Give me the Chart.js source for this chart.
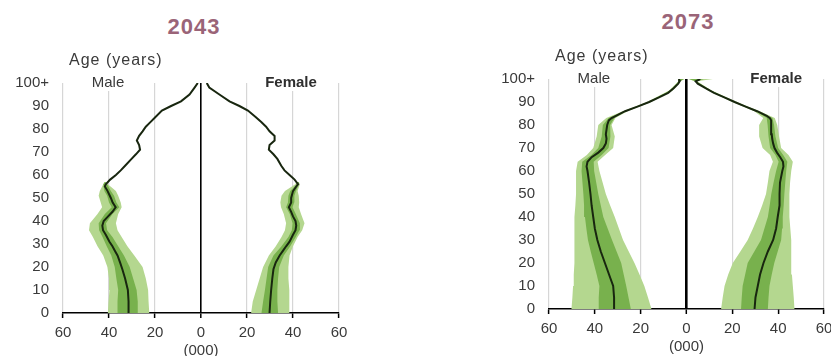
<!DOCTYPE html>
<html lang="en">
<head>
<meta charset="UTF-8">
<title>Population pyramids 2043 and 2073</title>
<script src="https://cdn.jsdelivr.net/npm/chart.js"></script>
<style>
    html, body { margin: 0; padding: 0; background: #fff; overflow: hidden; }
    body { width: 831px; height: 356px; position: relative; font-family: "Liberation Sans", Arial, sans-serif; }
    .title { position: absolute; width: 120px; text-align: center; font-weight: bold; font-size: 22px; letter-spacing: 1px; color: #9a6478; }
    canvas { position: absolute; }
</style>
</head>
<body>
    <div class="title" style="left:134px; top:14px;">2043</div>
    <div class="title" style="left:628px; top:9px;">2073</div>
    <canvas id="chart2043" width="360" height="316" style="left:0; top:40px;"></canvas>
    <canvas id="chart2073" width="370" height="320" style="left:480px; top:36px;"></canvas>

<script>
// values in thousands, males kept positive and mirrored when drawn
const ageTicks = [0, 10, 20, 30, 40, 50, 60, 70, 80, 90, 100];
const popTicks = [-60, -40, -20, 0, 20, 40, 60];

// 2043
const ages43 = [0, 5, 10, 15, 19, 22, 25, 27, 29, 31, 34, 36, 38, 40, 42, 44, 46, 48, 50, 53, 55, 56, 58, 60, 62, 64, 67, 69, 71, 73, 75, 77, 79, 81, 83, 85, 88, 90, 92, 95, 98, 100];
const male43 = [31.5, 31.5, 31.8, 33, 34.2, 35.2, 36.3, 37.4, 38.5, 39.8, 41.4, 42.6, 42.9, 42.3, 40.4, 38.5, 37.1, 38.4, 39.2, 40.6, 41.8, 41.4, 39.5, 37, 34.9, 33, 30.2, 28.3, 26.5, 26.9, 27.9, 26.9, 25.4, 24, 22, 20, 17, 13, 8.7, 5, 2.8, 1.4];
const female43 = [29.8, 30.1, 30.5, 31, 31.5, 32.5, 34.2, 35.6, 37, 38.5, 40, 41.1, 41.4, 41.1, 40, 39.2, 38.2, 39.2, 39.2, 40, 41.4, 42.2, 40.7, 38.5, 36.3, 34.9, 33.2, 31.5, 29.5, 29.8, 32, 32, 29.8, 28.3, 26.2, 24, 20.4, 16.7, 12.4, 8, 3.6, 2.5];
const bandAges43 = [0, 5, 10, 15, 20, 25, 29, 33, 36, 39, 43, 46, 48, 51, 53, 56, 57];
const maleLightOut43 = [40.5, 40.2, 39.8, 40, 40.7, 42.5, 45, 47, 48.7, 48.3, 45, 43, 43.6, 44.5, 44, 42.5, 41.8];
const maleLightIn43 = [22.5, 22.8, 23, 24, 25.4, 29, 32, 34.5, 36.3, 37, 36, 34.5, 34.9, 36, 37, 40.5, 41.6];
const maleDarkOut43 = [36.5, 36.3, 36, 36.8, 37.5, 39, 41, 42.8, 44.3, 44.5, 41.8, 38.8, 40, 40.8, 42, 42.5, 41.8];
const maleDarkIn43 = [27.5, 27.5, 28, 29.5, 31, 33.5, 36, 38.5, 40.8, 41.3, 38.5, 35.5, 36.8, 37.8, 39.2, 40.8, 41.6];
const femaleLightOut43 = [38.5, 38.5, 38.3, 38, 38, 38.5, 40, 42, 44, 45, 43.5, 42.5, 42.7, 42.5, 42, 43, 42.5];
const femaleLightIn43 = [21.8, 22.5, 24, 25.5, 27, 29.5, 32.5, 35, 36.5, 37, 36, 34.8, 34.5, 35, 36.5, 41, 41.5];
const femaleDarkOut43 = [33.5, 33.2, 33.2, 33.5, 34, 36, 38.8, 41.2, 42.8, 43, 41.2, 39.8, 40.5, 40.6, 41.3, 42.6, 42.5];
const femaleDarkIn43 = [26.3, 27, 27.8, 28.5, 29.2, 31.5, 35, 38, 39.5, 39.8, 38.6, 37, 37.8, 38, 38.8, 41.6, 41.6];

// 2073
const ages73 = [0, 5, 10, 15, 20, 25, 30, 35, 40, 45, 50, 55, 60, 62, 64, 66, 68, 70, 72, 74, 76, 78, 80, 82, 83, 84, 86, 88, 90, 92, 94, 96, 98, 99, 100];
const male73 = [31.3, 31.6, 32, 33.8, 35.6, 37.4, 38.9, 40, 40.7, 41.4, 41.9, 42.5, 43.2, 43.6, 43.2, 41.4, 38.5, 36.3, 35.2, 34.9, 35.2, 34.9, 34.6, 33.9, 32.7, 30.8, 26.8, 21.4, 16.3, 12, 8, 5.6, 3.6, 3, 3.2];
const female73 = [29.7, 30.1, 31.1, 32.1, 33.6, 35.5, 37.8, 39.1, 39.8, 40.6, 40.6, 40.8, 41.8, 42.3, 42.1, 40.9, 39.5, 38.4, 37.8, 37.4, 37.2, 37, 36.9, 36.9, 36.4, 35, 30.8, 25.8, 21, 16.5, 12, 8.3, 4.9, 4, 6];
const bandAges73 = [0, 5, 10, 15, 20, 25, 30, 35, 40, 45, 50, 55, 60, 64, 67, 70, 75, 80, 83, 86, 90, 95, 99, 100];
const maleLightOut73 = [50.2, 49.8, 49.5, 49.2, 48.9, 48.9, 48.9, 48.9, 48.9, 48.5, 48.2, 48.2, 48.2, 47.5, 43.5, 40.7, 39.2, 38.5, 35, 27.8, 17.2, 7.6, 3.5, 3.8];
const maleLightIn73 = [15.3, 16.8, 18.4, 20.5, 22.7, 25.2, 27.7, 29.5, 31.3, 33.3, 35.2, 36.6, 38, 38.8, 35.5, 32, 31.3, 32.7, 31, 25.8, 15.4, 6, 2.6, 0.8];
const maleDarkOut73 = [38.6, 38.3, 38, 39.2, 40.5, 41.8, 43, 43.7, 44.3, 44.7, 45, 45.4, 45.8, 45.5, 41.5, 38.5, 37, 36.5, 34, 27.2, 16.8, 7.2, 3.3, 3.5];
const maleDarkIn73 = [24.3, 25.3, 26.3, 27.4, 28.5, 30.5, 32.5, 34.4, 36.3, 37.4, 38.5, 39.4, 40.3, 40.5, 37, 34, 33.2, 33.3, 31.5, 26.4, 15.8, 6.4, 2.8, 1.2];
const femaleLightOut73 = [47.1, 46.8, 46.4, 46, 45.7, 45.7, 45.7, 45.3, 44.9, 44.9, 44.9, 45.2, 45.7, 46.4, 44.5, 41.3, 40.4, 39.6, 38.5, 32, 22, 11, 4.6, 11.5];
const femaleLightIn73 = [15.1, 15.8, 16.6, 18.2, 20.2, 23.5, 26.7, 29, 31.1, 33, 34.7, 35.5, 36.2, 37.7, 36.5, 33.2, 31.7, 31.7, 33.5, 29.6, 20, 9.4, 3.6, 0.8];
const femaleDarkOut73 = [35.5, 35.8, 36.2, 37.2, 38.3, 39.8, 41.3, 41.7, 42, 42.4, 42.7, 43.1, 43.5, 44, 42.2, 40, 38.8, 38.2, 37.5, 31.4, 21.5, 10.6, 4.3, 7.5];
const femaleDarkIn73 = [23.8, 24.1, 24.5, 25.6, 26.7, 29.6, 32.5, 34, 35.5, 36.3, 37, 38, 39.1, 40.2, 38.8, 36.5, 35.8, 35.4, 35, 30.2, 20.5, 9.8, 3.8, 1.2];

const LIGHT = '#b4d78f';
const DARK = '#78b14d';
const LINE = '#18260f';
const FONT = '"Liberation Sans", Arial, sans-serif';

function pts(ages, vals, sign) {
    return ages.map((a, i) => ({ x: sign * vals[i], y: a }));
}

function band(ages, vals, sign, color, fill) {
    return { data: pts(ages, vals, sign), borderWidth: 0, pointRadius: 0, backgroundColor: color, fill: fill };
}

function median(ages, vals, sign) {
    return { data: pts(ages, vals, sign), borderColor: LINE, borderWidth: 2, pointRadius: 0, fill: false };
}

// draws "Age (years)", "Male", "Female" and "(000)"
const labelPlugin = {
    id: 'pyramidLabels',
    afterDraw(chart) {
        const { ctx, chartArea, scales } = chart;
        const x = scales.x;
        ctx.save();
        ctx.fillStyle = '#3a3a3a';
        ctx.textBaseline = 'middle';
        ctx.font = '16px ' + FONT;
        ctx.letterSpacing = '1px';
        ctx.textAlign = 'left';
        ctx.fillText('Age (years)', chartArea.left + 6, chartArea.top - 22);
        ctx.letterSpacing = '0px';
        ctx.textAlign = 'center';
        ctx.font = '15px ' + FONT;
        let w = ctx.measureText('Male').width;
        ctx.fillStyle = '#fff';
        ctx.fillRect(x.getPixelForValue(-40) - 1 - w / 2 - 2, chartArea.top - 8, w + 4, 16);
        ctx.fillStyle = '#3a3a3a';
        ctx.fillText('Male', x.getPixelForValue(-40) - 1, chartArea.top);
        ctx.font = 'bold 15px ' + FONT;
        w = ctx.measureText('Female').width;
        ctx.fillStyle = '#fff';
        ctx.fillRect(x.getPixelForValue(40) - 2 - w / 2 - 2, chartArea.top - 8, w + 4, 16);
        ctx.fillStyle = '#2e2e2e';
        ctx.fillText('Female', x.getPixelForValue(40) - 2, chartArea.top);
        ctx.font = '15px ' + FONT;
        ctx.fillStyle = '#3a3a3a';
        ctx.fillText('(000)', x.getPixelForValue(0), chartArea.bottom + 38);
        ctx.restore();
    }
};

function makeChart(id, d, box) {
    const datasets = [
        median(d.ages, d.male, -1),
        median(d.ages, d.female, 1),
        band(d.bandAges, d.maleDarkOut, -1, DARK, '+1'),
        band(d.bandAges, d.maleDarkIn, -1, DARK, false),
        band(d.bandAges, d.femaleDarkOut, 1, DARK, '+1'),
        band(d.bandAges, d.femaleDarkIn, 1, DARK, false),
        band(d.bandAges, d.maleLightOut, -1, LIGHT, '+1'),
        band(d.bandAges, d.maleLightIn, -1, LIGHT, false),
        band(d.bandAges, d.femaleLightOut, 1, LIGHT, '+1'),
        band(d.bandAges, d.femaleLightIn, 1, LIGHT, false)
    ];
    return new Chart(document.getElementById(id), {
        type: 'line',
        data: { datasets },
        plugins: [labelPlugin],
        options: {
            indexAxis: 'y',
            responsive: false,
            animation: false,
            layout: { padding: { top: box.top, right: box.right, left: 0, bottom: 0 } },
            plugins: { legend: { display: false }, tooltip: { enabled: false } },
            scales: {
                x: {
                    type: 'linear', min: -60, max: 60,
                    afterBuildTicks: s => { s.ticks = popTicks.map(v => ({ value: v })); },
                    afterFit: s => { s.height = box.xHeight; },
                    ticks: { callback: v => Math.abs(v), color: '#3a3a3a', padding: 6, maxRotation: 0, font: { family: FONT, size: 15 } },
                    grid: {
                        color: c => c.tick && c.tick.value === 0 ? '#000' : '#d6d6d6',
                        lineWidth: c => c.tick && c.tick.value === 0 ? box.zeroWidth : 1.2,
                        tickColor: '#000', tickLength: 5, tickWidth: 1.5
                    },
                    border: { color: '#000', width: 1.5 }
                },
                y: {
                    type: 'linear', min: 0, max: 100,
                    afterBuildTicks: s => { s.ticks = ageTicks.map(v => ({ value: v })); },
                    afterFit: s => { s.width = box.yWidth; },
                    ticks: { callback: v => v === 100 ? '100+' : v, color: '#3a3a3a', padding: 14, font: { family: FONT, size: 15 } },
                    grid: { display: false, drawTicks: false },
                    border: { display: false }
                }
            }
        }
    });
}

makeChart('chart2043', {
    ages: ages43, male: male43, female: female43, bandAges: bandAges43,
    maleLightOut: maleLightOut43, maleLightIn: maleLightIn43, maleDarkOut: maleDarkOut43, maleDarkIn: maleDarkIn43,
    femaleLightOut: femaleLightOut43, femaleLightIn: femaleLightIn43, femaleDarkOut: femaleDarkOut43, femaleDarkIn: femaleDarkIn43
}, { top: 43, right: 21, xHeight: 43, yWidth: 63, zeroWidth: 1.6 });

makeChart('chart2073', {
    ages: ages73, male: male73, female: female73, bandAges: bandAges73,
    maleLightOut: maleLightOut73, maleLightIn: maleLightIn73, maleDarkOut: maleDarkOut73, maleDarkIn: maleDarkIn73,
    femaleLightOut: femaleLightOut73, femaleLightIn: femaleLightIn73, femaleDarkOut: femaleDarkOut73, femaleDarkIn: femaleDarkIn73
}, { top: 43, right: 26, xHeight: 47, yWidth: 69, zeroWidth: 2.6 });
</script>
</body>
</html>
